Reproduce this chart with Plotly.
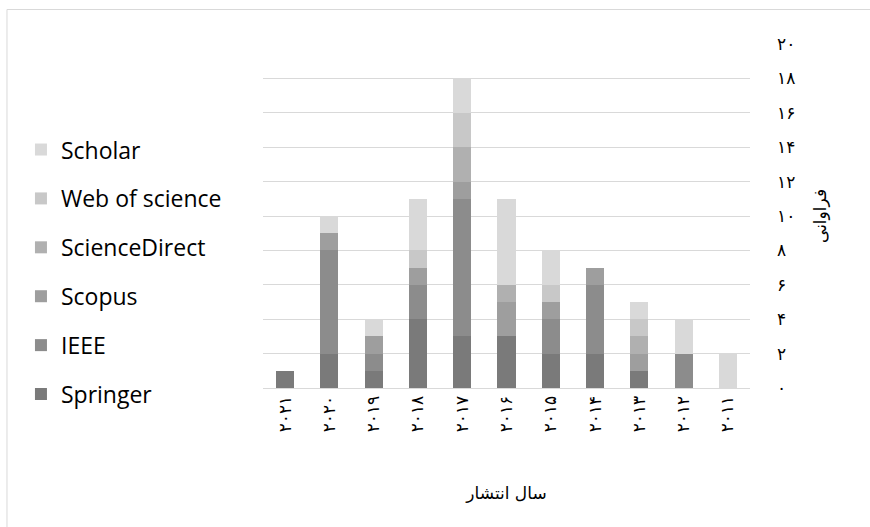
import plotly.graph_objects as go

# Publication years (Persian digits), newest first
years = ["۲۰۲۱", "۲۰۲۰", "۲۰۱۹", "۲۰۱۸", "۲۰۱۷", "۲۰۱۶",
         "۲۰۱۵", "۲۰۱۴", "۲۰۱۳", "۲۰۱۲", "۲۰۱۱"]

# Number of papers per database and year
springer = [1, 2, 1, 4, 3, 3, 2, 2, 1, 0, 0]
ieee = [0, 6, 1, 2, 8, 0, 2, 4, 0, 2, 0]
scopus = [0, 1, 1, 1, 1, 2, 1, 1, 1, 0, 0]
sciencedirect = [0, 0, 0, 0, 2, 1, 0, 0, 1, 0, 0]
web_of_science = [0, 0, 0, 1, 2, 0, 1, 0, 1, 0, 0]
scholar = [0, 1, 1, 3, 2, 5, 2, 0, 1, 2, 2]

y_tick_values = [0, 2, 4, 6, 8, 10, 12, 14, 16, 18, 20]
y_tick_labels = ["۰", "۲", "۴", "۶", "۸", "۱۰", "۱۲", "۱۴", "۱۶", "۱۸", "۲۰"]

series = [
    ("Springer", springer, "#7a7a7a"),
    ("IEEE", ieee, "#8c8c8c"),
    ("Scopus", scopus, "#9e9e9e"),
    ("ScienceDirect", sciencedirect, "#b0b0b0"),
    ("Web of science", web_of_science, "#c8c8c8"),
    ("Scholar", scholar, "#d9d9d9"),
]

persian_font = "DejaVu Sans, Noto Sans, sans-serif"

fig = go.Figure()
n = len(series)
for i, (name, values, color) in enumerate(series):
    fig.add_trace(go.Bar(
        x=years, y=values, name=name, legendgroup=name,
        legendrank=n - i,  # top of the stack listed first
        marker=dict(color=color, line=dict(width=0)),
    ))

fig.update_layout(
    width=870, height=527,
    barmode="stack", bargap=0.59,
    paper_bgcolor="white", plot_bgcolor="white",
    margin=dict(l=263, r=120, t=44, b=139, autoexpand=False),
    font=dict(family="Open Sans, sans-serif", color="#000000"),
    showlegend=True,
    legend=dict(
        x=-0.497, xanchor="left", y=0.337, yanchor="middle",
        traceorder="grouped", tracegroupgap=16,
        font=dict(size=23, family="Open Sans, sans-serif", color="#000000"),
        bgcolor="rgba(0,0,0,0)",
    ),
    xaxis=dict(
        type="category", categoryorder="array", categoryarray=years,
        tickangle=-90, showgrid=False, zeroline=False,
        showline=True, linecolor="#d9d9d9", linewidth=1,
        ticks="", tickfont=dict(size=17, family=persian_font),
        title=dict(text="سال انتشار", standoff=55,
                   font=dict(size=17, family=persian_font)),
    ),
    yaxis=dict(
        side="right", range=[0, 20],
        tickvals=y_tick_values, ticktext=y_tick_labels,
        showgrid=True, gridcolor="#d9d9d9", gridwidth=1,
        zeroline=False, showline=False, ticks="",
        ticklabelstandoff=26,
        tickfont=dict(size=17, family=persian_font),
        title=dict(text="فراوانی", standoff=19,
                   font=dict(size=17, family=persian_font)),
    ),
    shapes=[
        # chart frame: top and left edges
        dict(type="line", xref="paper", yref="paper",
             x0=-0.5257, x1=1.3, y0=1.1003, y1=1.1003,
             line=dict(color="#d9d9d9", width=1), layer="below"),
        dict(type="line", xref="paper", yref="paper",
             x0=-0.5257, x1=-0.5257, y0=-0.5, y1=1.1003,
             line=dict(color="#d9d9d9", width=1), layer="below"),
    ],
)

fig.write_html("out.html")
